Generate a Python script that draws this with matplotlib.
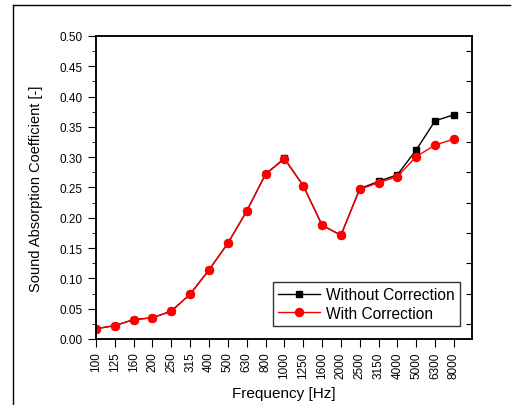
import matplotlib
matplotlib.use("Agg")
import matplotlib.pyplot as plt
from matplotlib.lines import Line2D
from matplotlib.ticker import MultipleLocator

plt.rcParams["font.family"] = ["Liberation Sans", "DejaVu Sans"]

frequencies = ["100", "125", "160", "200", "250", "315", "400", "500", "630", "800",
               "1000", "1250", "1600", "2000", "2500", "3150", "4000", "5000", "6300", "8000"]
without_correction = [0.017, 0.022, 0.032, 0.035, 0.046, 0.074, 0.114, 0.158, 0.211, 0.272,
                      0.298, 0.253, 0.188, 0.171, 0.248, 0.260, 0.271, 0.312, 0.360, 0.370]
with_correction = [0.017, 0.022, 0.032, 0.035, 0.046, 0.074, 0.114, 0.158, 0.211, 0.272,
                   0.297, 0.253, 0.188, 0.171, 0.247, 0.258, 0.268, 0.301, 0.320, 0.330]

fig = plt.figure(figsize=(5.13, 4.06), dpi=100)
ax = fig.add_axes([0.1871, 0.1626, 0.733, 0.7463])

x = list(range(len(frequencies)))
ax.plot(x, without_correction, color="black", marker="s", markersize=4.6,
        linewidth=1, label="Without Correction")
ax.plot(x, with_correction, color="red", marker="o", markersize=5.8,
        linewidth=1, label="With Correction")

ax.set_xlim(0, 19.96)
ax.set_ylim(0, 0.5)
ax.set_xticks(x)
ax.set_xticklabels(frequencies, rotation=90, fontsize=8.5)
ax.yaxis.set_major_locator(MultipleLocator(0.05))
ax.yaxis.set_minor_locator(MultipleLocator(0.025))
ax.yaxis.set_major_formatter(plt.FormatStrFormatter("%.2f"))
ax.tick_params(axis="y", which="major", direction="out", length=6, labelsize=8.5)
ax.tick_params(axis="y", which="minor", direction="out", length=3)
ax.tick_params(axis="x", which="major", direction="out", length=6, pad=3)

# right side ticks (inward, offset by half step)
rax = ax.twinx()
rax.set_ylim(0, 0.5)
rax.set_yticks([0.025 + 0.05 * k for k in range(10)])
rax.tick_params(axis="y", direction="in", length=4, labelright=False)

for s in ax.spines.values():
    s.set_linewidth(1.1)
for s in rax.spines.values():
    s.set_linewidth(1.1)

ax.set_xlabel("Frequency [Hz]", fontsize=11, labelpad=6)
ax.set_ylabel("Sound Absorption Coefficient [-]", fontsize=10.5, labelpad=12)

leg = ax.legend(loc="lower right", bbox_to_anchor=(0.968, 0.043), borderaxespad=0,
                fontsize=11.2, frameon=True, fancybox=False, edgecolor="black",
                handlelength=2.7, borderpad=0.35, labelspacing=0.2, handletextpad=0.35)
leg.get_frame().set_linewidth(1)

# partial outer frame
fig.add_artist(Line2D([13 / 513, 13 / 513], [0, 1 - 6 / 406], transform=fig.transFigure,
                      color="black", linewidth=1))
fig.add_artist(Line2D([13 / 513, 510 / 513], [1 - 6 / 406, 1 - 6 / 406],
                      transform=fig.transFigure, color="black", linewidth=1))

fig.savefig("out.png", dpi=100)
